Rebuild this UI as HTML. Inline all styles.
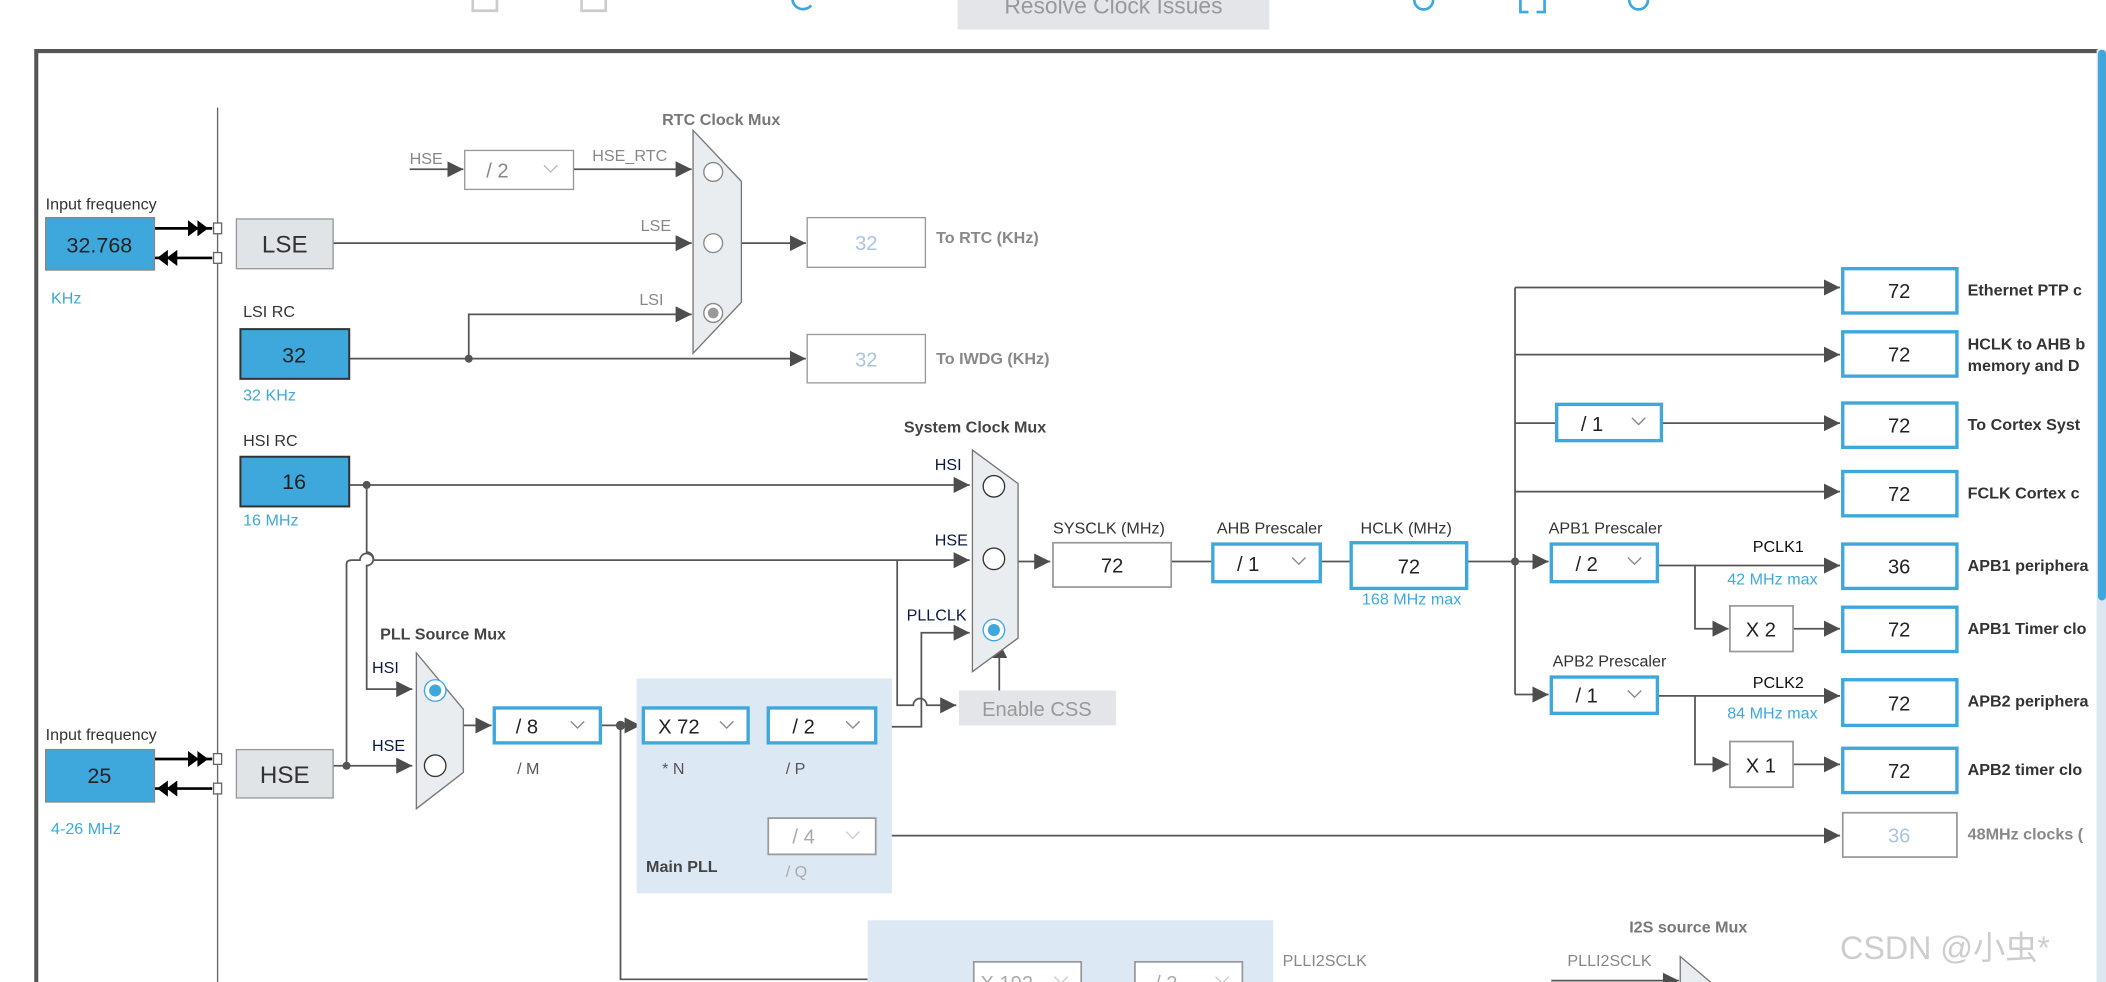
<!DOCTYPE html>
<html><head><meta charset="utf-8"><style>
html,body{margin:0;padding:0;background:#fff;overflow:hidden;width:2106px;height:982px}
svg{display:block}
text{font-family:"Liberation Sans","Noto Sans CJK SC",sans-serif}
</style></head><body>
<svg width="2106" height="982" viewBox="0 0 1568 731" preserveAspectRatio="none" xmlns="http://www.w3.org/2000/svg">
<defs>
<marker id="a" markerUnits="userSpaceOnUse" markerWidth="12" markerHeight="12" refX="12" refY="6" orient="auto"><path d="M0,0 L12,6 L0,12 z" fill="#4d4d4d"/></marker>
</defs>
<!-- toolbar -->
<rect x="713" y="-10" width="232" height="32" fill="#e3e5e8"/>
<text x="829" y="10" font-size="17" fill="#999" text-anchor="middle">Resolve Clock Issues</text>
<path d="M352,0 v8 h18 v-8 M433,0 v8 h18 v-8" stroke="#ccc" stroke-width="2" fill="none"/>
<path d="M590,0 a8,8 0 0 0 14,4" stroke="#3ea8dd" stroke-width="2" fill="none"/>
<circle cx="1060" cy="0" r="7" stroke="#3ea8dd" stroke-width="2" fill="none"/>
<path d="M1132,0 v9 h6 M1150,0 v9 h-6" stroke="#3ea8dd" stroke-width="2" fill="none"/>
<circle cx="1220" cy="0" r="7" stroke="#3ea8dd" stroke-width="2" fill="none"/>
<!-- frame -->
<path d="M27,740 V38 H1562" stroke="#555" stroke-width="3" fill="none"/>
<rect x="1561" y="37" width="7" height="700" fill="#dbe7f3"/>
<rect x="1562" y="37" width="6" height="410" rx="3" fill="#3ea8dd"/>
<line x1="162" y1="80" x2="162" y2="731" stroke="#666" stroke-width="1"/>

<g stroke="#555" stroke-width="1.3" fill="none">
<line x1="248" y1="181" x2="515" y2="181" marker-end="url(#a)"/>
<line x1="305" y1="126" x2="345" y2="126" marker-end="url(#a)"/>
<line x1="427" y1="126" x2="515" y2="126" marker-end="url(#a)"/>
<line x1="552" y1="181" x2="600" y2="181" marker-end="url(#a)"/>
<line x1="260" y1="267" x2="600" y2="267" marker-end="url(#a)"/>
<polyline points="349,267 349,234 515,234" marker-end="url(#a)"/>
<line x1="260" y1="361" x2="722" y2="361" marker-end="url(#a)"/>
<path d="M273,361 V411 a5,5 0 0 1 0,10 V513 H307" marker-end="url(#a)"/>
<line x1="248" y1="570" x2="307" y2="570" marker-end="url(#a)"/>
<path d="M258,570 V420 Q258,417 262,417 H268 a5,5 0 0 1 10,0 H722" marker-end="url(#a)"/>
<path d="M668,417 V525 H680 a5,5 0 0 1 10,0 H712" marker-end="url(#a)"/>
<polyline points="652,541 686,541 686,471 722,471" marker-end="url(#a)"/>
<line x1="744" y1="514" x2="744" y2="478" marker-end="url(#a)"/>
<line x1="345" y1="540" x2="366" y2="540" marker-end="url(#a)"/>
<line x1="447" y1="540" x2="477" y2="540" marker-end="url(#a)"/>
<line x1="557" y1="540" x2="572" y2="540"/>
<polyline points="562,540 562,622 572,622"/>
<line x1="652" y1="622" x2="1370" y2="622" marker-end="url(#a)"/>
<polyline points="462,540 462,729 646,729"/>
<line x1="758" y1="418" x2="782" y2="418" marker-end="url(#a)"/>
<line x1="872" y1="418" x2="903" y2="418"/>
<line x1="983" y1="418" x2="1006" y2="418"/>
<line x1="1092" y1="418" x2="1153" y2="418" marker-end="url(#a)"/>
<line x1="1128" y1="214" x2="1128" y2="517"/>
<line x1="1128" y1="214" x2="1370" y2="214" marker-end="url(#a)"/>
<line x1="1128" y1="264" x2="1370" y2="264" marker-end="url(#a)"/>
<line x1="1128" y1="315" x2="1159" y2="315"/>
<line x1="1237" y1="315" x2="1370" y2="315" marker-end="url(#a)"/>
<line x1="1128" y1="366" x2="1370" y2="366" marker-end="url(#a)"/>
<line x1="1128" y1="517" x2="1153" y2="517" marker-end="url(#a)"/>
<line x1="1234" y1="421" x2="1370" y2="421" marker-end="url(#a)"/>
<polyline points="1262,421 1262,468 1287,468" marker-end="url(#a)"/>
<line x1="1335" y1="468" x2="1370" y2="468" marker-end="url(#a)"/>
<line x1="1234" y1="518" x2="1370" y2="518" marker-end="url(#a)"/>
<polyline points="1262,518 1262,569 1287,569" marker-end="url(#a)"/>
<line x1="1335" y1="569" x2="1370" y2="569" marker-end="url(#a)"/>
<line x1="1155" y1="730" x2="1250" y2="730" marker-end="url(#a)"/>
</g>
<g stroke="#000" stroke-width="2">
<line x1="115" y1="170" x2="158" y2="170"/><line x1="115" y1="192" x2="158" y2="192"/>
<line x1="115" y1="565" x2="158" y2="565"/><line x1="115" y1="587" x2="158" y2="587"/>
</g>
<g fill="#000">
<path d="M140,164 l8,6 l-8,6z M147,164 l8,6 l-8,6z M125,186 l-8,6 l8,6z M132,186 l-8,6 l8,6z"/>
<path d="M140,559 l8,6 l-8,6z M147,559 l8,6 l-8,6z M125,581 l-8,6 l8,6z M132,581 l-8,6 l8,6z"/>
</g>
<g fill="#fff" stroke="#666">
<rect x="159" y="166" width="6" height="8"/><rect x="159" y="188" width="6" height="8"/>
<rect x="159" y="561" width="6" height="8"/><rect x="159" y="583" width="6" height="8"/>
</g>
<g fill="#555">
<circle cx="349" cy="267" r="3"/><circle cx="273" cy="361" r="3"/><circle cx="258" cy="570" r="3"/>
<circle cx="462" cy="540" r="3.5"/><circle cx="1128" cy="418" r="3"/>
</g>

<g font-size="12" fill="#333">
<text x="34" y="156">Input frequency</text>
<text x="34" y="551">Input frequency</text>
<text x="181" y="236">LSI RC</text>
<text x="181" y="332">HSI RC</text>
</g>
<rect x="34" y="162" width="81" height="39" fill="#3ea8dd" stroke="#888"/>
<text x="74" y="188" font-size="16" text-anchor="middle" fill="#222">32.768</text>
<text x="38" y="226" font-size="12" fill="#3ea8dd">KHz</text>
<rect x="34" y="558" width="81" height="39" fill="#3ea8dd" stroke="#888"/>
<text x="74" y="583" font-size="16" text-anchor="middle" fill="#222">25</text>
<text x="38" y="621" font-size="12" fill="#3ea8dd">4-26 MHz</text>
<rect x="176" y="163" width="72" height="37" fill="#e1e4e6" stroke="#999"/>
<text x="212" y="188" font-size="18" text-anchor="middle" fill="#333">LSE</text>
<rect x="176" y="558" width="72" height="36" fill="#e1e4e6" stroke="#999"/>
<text x="212" y="583" font-size="18" text-anchor="middle" fill="#333">HSE</text>
<rect x="179" y="245" width="81" height="37" fill="#3ea8dd" stroke="#333" stroke-width="1.5"/>
<text x="219" y="270" font-size="16" text-anchor="middle" fill="#222">32</text>
<text x="181" y="298" font-size="12" fill="#3ea8dd">32 KHz</text>
<rect x="179" y="340" width="81" height="37" fill="#3ea8dd" stroke="#333" stroke-width="1.5"/>
<text x="219" y="364" font-size="16" text-anchor="middle" fill="#222">16</text>
<text x="181" y="391" font-size="12" fill="#3ea8dd">16 MHz</text>

<text x="493" y="93" font-size="12" font-weight="bold" fill="#777">RTC Clock Mux</text>
<g font-size="12" fill="#888">
<text x="305" y="122">HSE</text><text x="441" y="120">HSE_RTC</text>
<text x="477" y="172">LSE</text><text x="476" y="227">LSI</text>
</g>
<rect x="346" y="112" width="81" height="29" fill="#fff" stroke="#999"/>
<text x="362" y="132" font-size="15" fill="#888">/ 2</text>
<path d="M405,123 l5,5 l5,-5" stroke="#bbb" fill="none"/>
<path d="M516,97 L552,135 L552,225 L516,263 Z" fill="#e9edf0" stroke="#777"/>
<circle cx="531" cy="128" r="7" fill="#fff" stroke="#888"/>
<circle cx="531" cy="181" r="7" fill="#fff" stroke="#888"/>
<circle cx="531" cy="233" r="7" fill="#fff" stroke="#888"/><circle cx="531" cy="233" r="4" fill="#999"/>
<rect x="601" y="162" width="88" height="37" fill="#fff" stroke="#999"/>
<text x="645" y="186" font-size="15" text-anchor="middle" fill="#aac4e0">32</text>
<text x="697" y="181" font-size="12" font-weight="bold" fill="#888">To RTC (KHz)</text>
<rect x="601" y="249" width="88" height="36" fill="#fff" stroke="#999"/>
<text x="645" y="273" font-size="15" text-anchor="middle" fill="#aac4e0">32</text>
<text x="697" y="271" font-size="12" font-weight="bold" fill="#888">To IWDG (KHz)</text>

<text x="673" y="322" font-size="12" font-weight="bold" fill="#444">System Clock Mux</text>
<g font-size="12" fill="#0a1a40">
<text x="696" y="350">HSI</text><text x="696" y="406">HSE</text><text x="675" y="462">PLLCLK</text>
</g>
<path d="M724,335 L758,360 L758,475 L724,500 Z" fill="#e9edf0" stroke="#777"/>
<circle cx="740" cy="362" r="8" fill="#fff" stroke="#333"/>
<circle cx="740" cy="416" r="8" fill="#fff" stroke="#333"/>
<circle cx="740" cy="469" r="8" fill="#fff" stroke="#3ea8dd"/><circle cx="740" cy="469" r="4.5" fill="#3ea8dd"/>
<rect x="714" y="514" width="117" height="26" fill="#e3e5e8"/>
<text x="772" y="533" font-size="15" text-anchor="middle" fill="#999">Enable CSS</text>

<text x="283" y="476" font-size="12" font-weight="bold" fill="#444">PLL Source Mux</text>
<text x="277" y="501" font-size="12" fill="#0a1a40">HSI</text>
<text x="277" y="559" font-size="12" fill="#0a1a40">HSE</text>
<path d="M310,486 L345,528 L345,575 L310,602 Z" fill="#e9edf0" stroke="#777"/>
<circle cx="324" cy="514" r="8" fill="#fff" stroke="#3ea8dd"/><circle cx="324" cy="514" r="4.5" fill="#3ea8dd"/>
<circle cx="324" cy="570" r="8" fill="#fff" stroke="#333"/>

<rect x="474" y="505" width="190" height="160" fill="#dce9f5"/>
<rect x="646" y="685" width="302" height="60" fill="#dce9f5"/>
<text x="481" y="649" font-size="12" font-weight="bold" fill="#444">Main PLL</text>

<g stroke="#3ea8dd" stroke-width="2.5" fill="#fff">
<rect x="368" y="527" width="79" height="26"/>
<rect x="479" y="527" width="78" height="26"/>
<rect x="572" y="527" width="80" height="26"/>
<rect x="903" y="405" width="80" height="28"/>
<rect x="1006" y="404" width="86" height="34"/>
<rect x="1159" y="301" width="78" height="27"/>
<rect x="1155" y="405" width="79" height="28"/>
<rect x="1155" y="504" width="79" height="27"/>
<rect x="1372" y="200" width="85" height="33"/>
<rect x="1372" y="247" width="85" height="33"/>
<rect x="1372" y="300" width="85" height="33"/>
<rect x="1372" y="351" width="85" height="33"/>
<rect x="1372" y="405" width="85" height="33"/>
<rect x="1372" y="452" width="85" height="33"/>
<rect x="1372" y="506" width="85" height="34"/>
<rect x="1372" y="557" width="85" height="33"/>
</g>
<g fill="#fff" stroke="#999" stroke-width="1.3">
<rect x="572" y="609" width="80" height="27"/>
<rect x="784" y="404" width="88" height="33"/>
<rect x="1288" y="451" width="47" height="34"/>
<rect x="1288" y="552" width="47" height="34"/>
<rect x="1372" y="605" width="85" height="33"/>
<rect x="725" y="716" width="80" height="30"/>
<rect x="845" y="716" width="80" height="30"/>
</g>
<g stroke="#888" fill="none">
<path d="M425,537 l5,5 l5,-5 M536,537 l5,5 l5,-5 M630,537 l5,5 l5,-5 M962,415 l5,5 l5,-5 M1215,311 l5,5 l5,-5 M1212,415 l5,5 l5,-5 M1212,514 l5,5 l5,-5"/>
<path d="M630,619 l5,5 l5,-5 M785,727 l5,5 l5,-5 M905,727 l5,5 l5,-5" stroke="#ccc"/>
</g>
<g font-size="15" fill="#222">
<text x="384" y="546">/ 8</text><text x="490" y="546">X 72</text><text x="590" y="546">/ 2</text>
<text x="921" y="425">/ 1</text><text x="1177" y="321">/ 1</text><text x="1173" y="425">/ 2</text><text x="1173" y="523">/ 1</text>
<text x="828" y="426" text-anchor="middle">72</text>
<text x="1049" y="427" text-anchor="middle">72</text>
<text x="1311" y="474" text-anchor="middle">X 2</text>
<text x="1311" y="575" text-anchor="middle">X 1</text>
<g text-anchor="middle">
<text x="1414" y="222">72</text><text x="1414" y="269">72</text><text x="1414" y="322">72</text><text x="1414" y="373">72</text>
<text x="1414" y="427">36</text><text x="1414" y="474">72</text><text x="1414" y="529">72</text><text x="1414" y="579">72</text>
</g>
</g>
<text x="590" y="628" font-size="15" fill="#aaa">/ 4</text>
<text x="1414" y="627" font-size="15" text-anchor="middle" fill="#aac4e0">36</text>
<text x="730" y="737" font-size="15" fill="#aaa">X 192</text>
<text x="860" y="737" font-size="15" fill="#aaa">/ 2</text>
<g font-size="12" fill="#555">
<text x="385" y="576">/ M</text><text x="493" y="576">* N</text><text x="585" y="576">/ P</text>
</g>
<text x="585" y="653" font-size="12" fill="#aaa">/ Q</text>
<g font-size="12" fill="#333">
<text x="784" y="397">SYSCLK (MHz)</text><text x="906" y="397">AHB Prescaler</text><text x="1013" y="397">HCLK (MHz)</text>
<text x="1153" y="397">APB1 Prescaler</text><text x="1156" y="496">APB2 Prescaler</text>
</g>
<g font-size="12" fill="#111"><text x="1305" y="411">PCLK1</text><text x="1305" y="512">PCLK2</text></g>
<g font-size="12" fill="#3ea8dd">
<text x="1014" y="450">168 MHz max</text><text x="1286" y="435">42 MHz max</text><text x="1286" y="535">84 MHz max</text>
</g>
<g font-size="12" font-weight="bold" fill="#333">
<text x="1465" y="220">Ethernet PTP c</text>
<text x="1465" y="260">HCLK to AHB b</text><text x="1465" y="276">memory and D</text>
<text x="1465" y="320">To Cortex Syst</text>
<text x="1465" y="371">FCLK Cortex c</text>
<text x="1465" y="425">APB1 periphera</text>
<text x="1465" y="472">APB1 Timer clo</text>
<text x="1465" y="526">APB2 periphera</text>
<text x="1465" y="577">APB2 timer clo</text>
</g>
<text x="1465" y="625" font-size="12" font-weight="bold" fill="#888">48MHz clocks (</text>
<text x="1213" y="694" font-size="12" font-weight="bold" fill="#777">I2S source Mux</text>
<text x="955" y="719" font-size="12" fill="#888">PLLI2SCLK</text>
<text x="1167" y="719" font-size="12" fill="#888">PLLI2SCLK</text>
<path d="M1251,712 L1290,745 L1251,745 Z" fill="#e9edf0" stroke="#777"/>
<text x="1370" y="714" font-size="24" fill="#c8c8c8" opacity="0.9">CSDN @小虫*</text>
</svg>
</body></html>
